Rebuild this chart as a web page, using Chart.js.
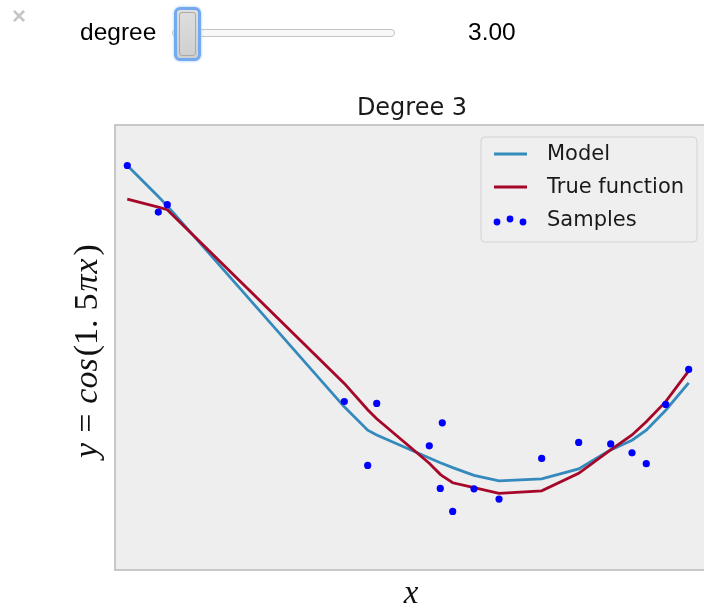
<!DOCTYPE html>
<html>
<head>
<meta charset="utf-8">
<script src="https://cdn.jsdelivr.net/npm/chart.js@4.4.1/dist/chart.umd.min.js"></script>
<style>
  html, body { margin: 0; padding: 0; background: #ffffff; width: 704px; height: 606px; overflow: hidden; }
  #wrap { position: relative; width: 704px; height: 606px; overflow: hidden; }
  #chart { position: absolute; left: 0; top: 0; }
  .w { position: absolute; font-family: "Liberation Sans", Arial, sans-serif; color: #000; }
  #close { left: 12px; top: 1px; font-size: 24px; font-weight: bold; color: #c6c6c6; line-height: 30px; }
  #lbl { left: 80px; top: 17px; font-size: 24.5px; line-height: 30px; }
  #val { left: 468px; top: 17px; font-size: 24.5px; line-height: 30px; }
  #track { left: 172px; top: 29px; width: 221px; height: 6px; border: 1px solid #c4c4c4; border-radius: 4px; background: #f8f8f8; }
  #thumb { left: 174px; top: 7px; width: 21px; height: 48px; border: 3px solid #73a9ef; border-radius: 6px;
           background: linear-gradient(#dedede, #cfcfcf); box-shadow: 0 0 3px #9cc5f8; }
  #thumb div { position: absolute; left: 2px; top: 2px; right: 2px; bottom: 2px; border: 1px solid #aaaaaa; border-radius: 3px; }
</style>
</head>
<body>
<div id="wrap">
  <canvas id="chart" width="720" height="606"></canvas>
  <div class="w" id="close">×</div>
  <div class="w" id="lbl">degree</div>
  <div class="w" id="track"></div>
  <div class="w" id="thumb"><div></div></div>
  <div class="w" id="val">3.00</div>
</div>
<script>
// ---- data ----
const sampleX = [0.0207, 0.0729, 0.0880, 0.3860, 0.4254, 0.4406, 0.5291, 0.5476, 0.5510, 0.5685,
                 0.6044, 0.6465, 0.7183, 0.7806, 0.8345, 0.8704, 0.8944, 0.9271, 0.9658];
const sampleY = [1.227, 0.913, 0.963, -0.364, -0.795, -0.377, -0.663, -0.950, -0.508, -1.105,
                 -0.953, -1.022, -0.748, -0.640, -0.650, -0.710, -0.783, -0.384, -0.148];
const modelY  = [1.227, 1.018, 0.955, -0.400, -0.557, -0.590, -0.745, -0.777, -0.782, -0.810,
                 -0.862, -0.899, -0.885, -0.818, -0.690, -0.625, -0.557, -0.423, -0.239];
const trueY   = [1.000, 0.946, 0.929, -0.242, -0.420, -0.480, -0.780, -0.855, -0.865, -0.912,
                 -0.945, -0.984, -0.966, -0.848, -0.690, -0.590, -0.500, -0.365, -0.158];
const seriesNames = ["Model", "True function", "Samples"];
const titleText = "Degree 3";
const xRange = [0, 1];
const yRange = [-1.5, 1.5];

const toPts = (xs, ys) => xs.map((x, i) => ({ x: x, y: ys[i] }));

const COL_MODEL = "#348ABD", COL_TRUE = "#A60628", COL_SAMP = "#0000ff";

const decor = {
  id: "decor",
  beforeDraw(chart) {
    const { ctx, chartArea: a } = chart;
    ctx.save();
    ctx.fillStyle = "#ffffff";
    ctx.fillRect(0, 0, chart.width, chart.height);
    ctx.fillStyle = "#eeeeee";
    ctx.fillRect(a.left, a.top, a.right - a.left, a.bottom - a.top);
    ctx.restore();
  },
  afterDraw(chart) {
    const { ctx, chartArea: a } = chart;
    ctx.save();
    // frame
    ctx.strokeStyle = "#bcbcbc";
    ctx.lineWidth = 1.6;
    ctx.strokeRect(a.left, a.top, a.right - a.left, a.bottom - a.top);

    // title
    ctx.fillStyle = "#1a1a1a";
    ctx.font = "24px 'DejaVu Sans'";
    ctx.textAlign = "center";
    ctx.textBaseline = "alphabetic";
    ctx.fillText(titleText, (a.left + a.right) / 2, 115);

    // legend
    const lx = 481, ly = 137, lw = 216, lh = 105;
    ctx.beginPath();
    ctx.roundRect(lx, ly, lw, lh, 4);
    ctx.fillStyle = "rgba(238,238,238,0.85)";
    ctx.fill();
    ctx.strokeStyle = "#d2d2d2";
    ctx.lineWidth = 1;
    ctx.stroke();
    const ds = chart.data.datasets;
    const rows = [154, 187, 220];
    ctx.font = "21px 'DejaVu Sans'";
    ctx.textAlign = "left";
    ctx.textBaseline = "middle";
    for (let i = 0; i < 3; i++) {
      const y = rows[i];
      if (i < 2) {
        ctx.strokeStyle = ds[i].borderColor;
        ctx.lineWidth = 2.8;
        ctx.beginPath();
        ctx.moveTo(494, y);
        ctx.lineTo(527, y);
        ctx.stroke();
      } else {
        ctx.fillStyle = COL_SAMP;
        [[497, y + 2], [510, y - 1], [523, y + 2]].forEach(p => {
          ctx.beginPath();
          ctx.arc(p[0], p[1], 3.4, 0, Math.PI * 2);
          ctx.fill();
        });
      }
      ctx.fillStyle = "#1a1a1a";
      ctx.fillText(ds[i].label, 547, y + 1);
    }

    // x label
    ctx.font = "italic 33px 'Liberation Serif'";
    ctx.textAlign = "center";
    ctx.textBaseline = "alphabetic";
    ctx.fillStyle = "#111";
    ctx.fillText("x", (a.left + a.right) / 2 - 1, 603);

    // y label (math-like pieces)
    const FS = "34px 'Liberation Serif'";
    const parts = [
      ["y", true, 10], ["=", false, 10], ["cos", true, 2], ["(1.", false, 9],
      ["5", false, 2], ["π", true, 1], ["x", true, 3], [")", false, 0]
    ];
    let total = 0;
    parts.forEach(p => {
      ctx.font = (p[1] ? "italic " : "") + FS;
      p.push(ctx.measureText(p[0]).width);
      total += p[3] + p[2];
    });
    ctx.translate(97, 351);
    ctx.rotate(-Math.PI / 2);
    let cx = -total / 2;
    ctx.textAlign = "left";
    parts.forEach(p => {
      ctx.font = (p[1] ? "italic " : "") + FS;
      ctx.fillText(p[0], cx, 0);
      cx += p[3] + p[2];
    });
    ctx.restore();
  }
};

new Chart(document.getElementById("chart"), {
  type: "scatter",
  data: {
    datasets: [
      { label: seriesNames[0], data: toPts(sampleX, modelY), showLine: true, borderColor: COL_MODEL,
        borderWidth: 2.8, pointRadius: 0, fill: false, tension: 0, order: 2 },
      { label: seriesNames[1], data: toPts(sampleX, trueY), showLine: true, borderColor: COL_TRUE,
        borderWidth: 2.8, pointRadius: 0, fill: false, tension: 0, order: 1 },
      { label: seriesNames[2], data: toPts(sampleX, sampleY), showLine: false, backgroundColor: COL_SAMP,
        borderColor: COL_SAMP, borderWidth: 0, pointRadius: 3.6, order: 0 }
    ]
  },
  options: {
    responsive: false,
    animation: false,
    devicePixelRatio: 1,
    layout: { padding: { left: 115, top: 125, right: 11, bottom: 36 } },
    scales: {
      x: { type: "linear", min: xRange[0], max: xRange[1], display: false },
      y: { type: "linear", min: yRange[0], max: yRange[1], display: false }
    },
    plugins: { legend: { display: false }, title: { display: false }, tooltip: { enabled: false } }
  },
  plugins: [decor]
});
</script>
</body>
</html>
